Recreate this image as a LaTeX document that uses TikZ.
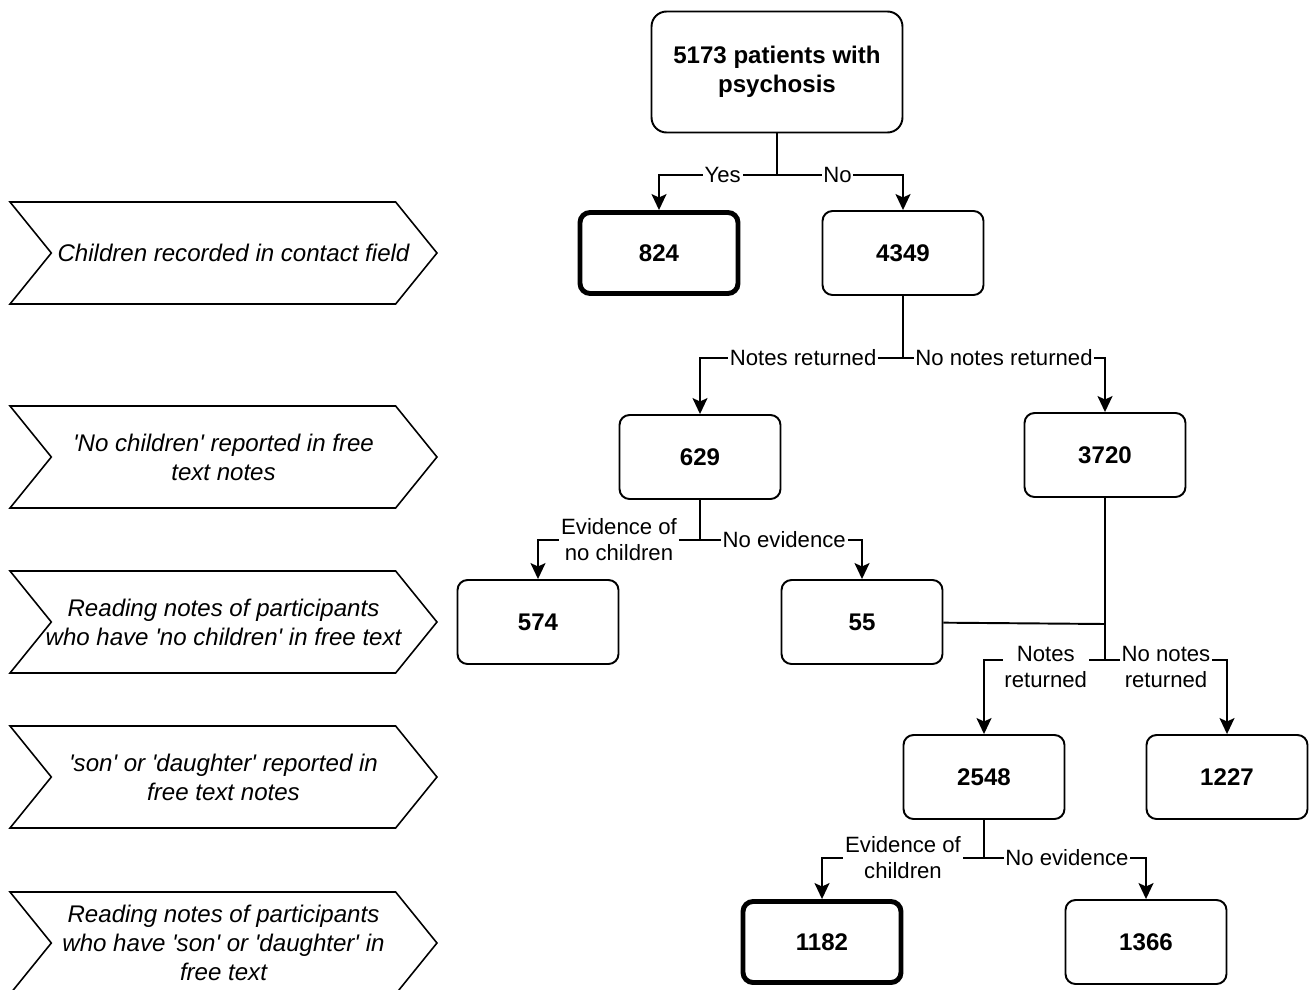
\documentclass[tikz,border=0pt]{standalone}
\usepackage{fontspec}
\setmainfont{Liberation Sans}
\usetikzlibrary{shapes.symbols,arrows.meta}
\newcommand{\q}{\textquotesingle}
\tikzset{
    box/.style={draw, rounded corners=0.2cm, line width=1.1pt, minimum width=3.22cm, minimum height=1.68cm, inner sep=0pt, align=center, font=\fontsize{13.7}{16.5}\selectfont\bfseries},
    keybox/.style={box, line width=2.8pt, minimum width=3.16cm, minimum height=1.62cm},
    stage/.style={draw, signal, signal from=west, signal to=east, signal pointer angle=102, line width=0.9pt, minimum width=8.54cm, minimum height=2.04cm, inner ysep=0pt, inner xsep=-0.6cm, align=center, font=\fontsize{13.7}{16.5}\selectfont\itshape},
    lab/.style={fill=white, inner sep=1pt, align=center, font=\fontsize{12.6}{14.8}\selectfont},
    link/.style={line width=1.1pt},
    arr/.style={link, -{Stealth[length=0.32cm, width=0.3cm, inset=0.07cm]}}
}
\begin{document}
\begin{tikzpicture}[x=0.02cm, y=-0.02cm]
    \useasboundingbox (0,0) rectangle (1312,990);

    \node[stage] (s1) at (223.5,253) {\hspace*{0.4cm}Children recorded in contact field};
    \node[stage] (s2) at (223.5,457) {\q No children\q{} reported in free\\text notes};
    \node[stage] (s3) at (223.5,622) {Reading notes of participants\\who have \q no children\q{} in free text};
    \node[stage] (s4) at (223.5,777) {\q son\q{} or \q daughter\q{} reported in\\free text notes};
    \node[stage] (s5) at (223.5,943) {Reading notes of participants\\who have \q son\q{} or \q daughter\q{} in\\free text};

    \node[box, rounded corners=0.3cm, minimum width=5.02cm, minimum height=2.42cm] (all) at (777,72) {5173 patients with\\psychosis};
    \node[keybox] (c824) at (659,253) {824};
    \node[box] (c4349) at (903,253) {4349};
    \node[box] (c629) at (700,457) {629};
    \node[box] (c3720) at (1105,455) {3720};
    \node[box] (c574) at (538,622) {574};
    \node[box] (c55) at (862,622) {55};
    \node[box] (c2548) at (984,777) {2548};
    \node[box] (c1227) at (1227,777) {1227};
    \node[keybox] (c1182) at (822,942) {1182};
    \node[box] (c1366) at (1146,942) {1366};

    \coordinate (j1) at (777,175);
    \coordinate (j2) at (903,358);
    \coordinate (j3) at (700,540);
    \coordinate (j4) at (1105,624);
    \coordinate (j5) at (1105,660);
    \coordinate (j6) at (984,858);

    \draw[link] (all) -- (j1);
    \draw[arr] (j1) -| node[lab, pos=0.23] {Yes} (c824);
    \draw[arr] (j1) -| node[lab, pos=0.24] {No} (c4349);

    \draw[link] (c4349) -- (j2);
    \draw[arr] (j2) -| node[lab, pos=0.246] {Notes returned} (c629);
    \draw[arr] (j2) -| node[lab, pos=0.25] {No notes returned} (c3720);

    \draw[link] (c629) -- (j3);
    \draw[arr] (j3) -| node[lab, pos=0.25] {Evidence of\\no children} (c574);
    \draw[arr] (j3) -| node[lab, pos=0.26] {No evidence} (c55);

    \draw[link] (c3720) -- (j4);
    \draw[link] (c55) -- (j4);
    \draw[link] (j4) -- (j5);
    \draw[arr] (j5) -| node[lab, pos=0.245, yshift=-0.14cm] {Notes\\returned} (c2548);
    \draw[arr] (j5) -| node[lab, pos=0.25, yshift=-0.14cm] {No notes\\returned} (c1227);

    \draw[link] (c2548) -- (j6);
    \draw[arr] (j6) -| node[lab, pos=0.25] {Evidence of\\children} (c1182);
    \draw[arr] (j6) -| node[lab, pos=0.256] {No evidence} (c1366);
\end{tikzpicture}
\end{document}
